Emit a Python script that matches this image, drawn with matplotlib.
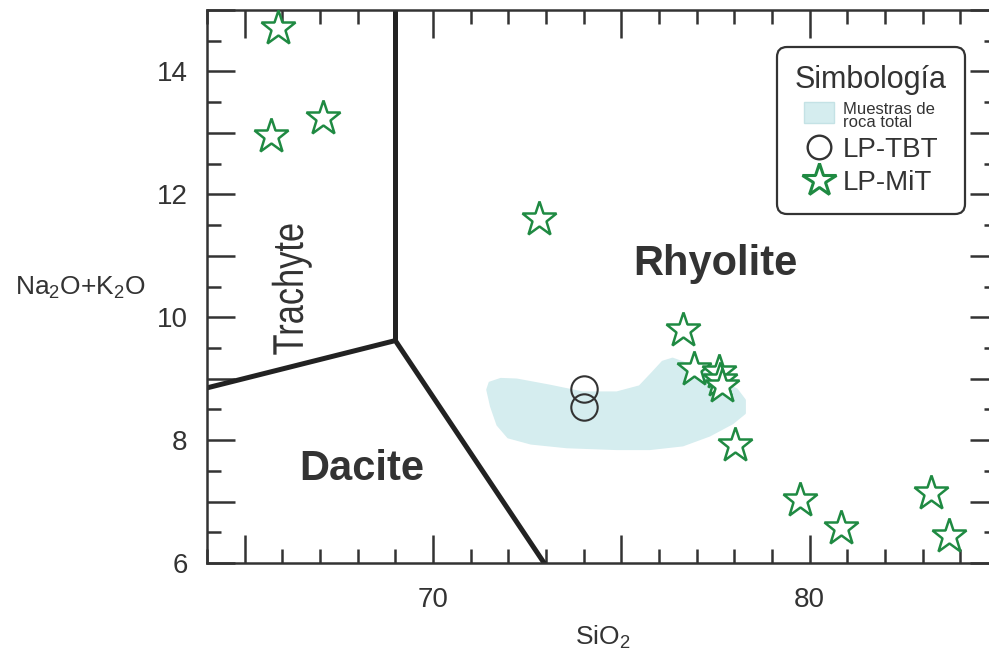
import matplotlib
matplotlib.use('Agg')
import matplotlib.pyplot as plt
from matplotlib.lines import Line2D
from matplotlib.patches import Patch, Polygon, PathPatch
from matplotlib.ticker import MultipleLocator
from matplotlib.textpath import TextPath
from matplotlib.font_manager import FontProperties
from matplotlib.transforms import Affine2D, IdentityTransform

plt.rcParams['font.family'] = ['Liberation Sans', 'DejaVu Sans']
plt.rcParams['mathtext.fontset'] = 'custom'
plt.rcParams['mathtext.rm'] = 'Liberation Sans'
plt.rcParams['mathtext.it'] = 'Liberation Sans'

# LP-MiT samples (SiO2, Na2O+K2O)
mit_sio2 = [65.88, 65.70, 67.08, 72.81, 76.64, 76.93, 77.58, 77.63, 77.66,
            78.01, 79.75, 80.82, 83.22, 83.71]
mit_alk = [14.71, 12.95, 13.25, 11.60, 9.80, 9.15, 9.11, 8.98, 8.88,
           7.92, 7.03, 6.57, 7.14, 6.44]

# LP-TBT samples
tbt_sio2 = [74.02, 74.02]
tbt_alk = [8.83, 8.54]

# whole-rock samples field outline
field_sio2 = [71.51, 71.80, 72.22, 73.10, 73.97, 74.88, 75.49, 75.83, 76.10,
              76.36, 76.81, 77.53, 78.06, 78.27, 78.27, 77.95, 77.34, 76.63,
              75.75, 74.88, 73.55, 72.60, 72.00, 71.72, 71.55, 71.45]
field_alk = [8.93, 8.99, 8.98, 8.88, 8.77, 8.77, 8.87, 9.09, 9.27,
             9.32, 9.22, 8.98, 8.82, 8.65, 8.44, 8.28, 8.08, 7.92,
             7.86, 7.86, 7.89, 7.95, 8.05, 8.25, 8.55, 8.82]

# TAS field boundaries
bound_a_sio2 = [69.0, 69.0]
bound_a_alk = [15.0, 9.62]
bound_b_sio2 = [64.0, 69.0, 72.95]
bound_b_alk = [8.85, 9.62, 6.0]

# axis ticks
x_ticks = [65, 70, 75, 80, 85]
x_labels = ['', '70', '', '80', '']
y_ticks = [6, 7, 8, 9, 10, 11, 12, 13, 14, 15]
y_labels = ['6', '', '8', '', '10', '', '12', '', '14', '']

txt = '#333333'
green = '#1f8a42'
field_col = '#d5edef'

fig = plt.figure(figsize=(9.89, 6.5), dpi=100)
ax = fig.add_axes([207 / 989, 1 - 563 / 650, 791 / 989, 553 / 650])

ax.add_patch(Polygon(list(zip(field_sio2, field_alk)), closed=True,
                     facecolor=field_col, edgecolor=field_col, lw=2,
                     joinstyle='round', zorder=1))

ax.plot(bound_a_sio2, bound_a_alk, color='#222222', lw=3.6, zorder=2,
        solid_capstyle='butt')
ax.plot(bound_b_sio2, bound_b_alk, color='#222222', lw=3.6, zorder=2,
        solid_joinstyle='miter')

ax.plot(tbt_sio2, tbt_alk, 'o', ms=19, mfc='none', mec='#333333', mew=1.5,
        zorder=3)
ax.plot(mit_sio2, mit_alk, '*', ms=26, mfc='white', mec=green, mew=1.8,
        zorder=4)

ax.set_xlim(64, 85)
ax.set_ylim(6, 15)

ax.text(77.5, 10.87, 'Rhyolite', fontsize=30, fontweight='bold', color=txt,
        ha='center', va='center')
ax.text(68.11, 7.53, 'Dacite', fontsize=30, fontweight='bold', color=txt,
        ha='center', va='center')

# condensed, rotated "Trachyte" label
tp = TextPath((0, 0), 'Trachyte', size=43,
              prop=FontProperties(family='Liberation Sans'))
ext = tp.get_extents()
cx, cy = ax.transData.transform((66.25, 10.45))
tr = (Affine2D().translate(-(ext.x0 + ext.x1) / 2, -(ext.y0 + ext.y1) / 2)
      .scale(0.8, 1.0).rotate_deg(90).translate(cx, cy))
ax.add_patch(PathPatch(tr.transform_path(tp), facecolor=txt, edgecolor='none',
                       transform=IdentityTransform(), zorder=2))

ax.set_xticks(x_ticks, x_labels)
ax.xaxis.set_minor_locator(MultipleLocator(1))
ax.set_yticks(y_ticks, y_labels)
ax.yaxis.set_minor_locator(MultipleLocator(0.5))

for s in ax.spines.values():
    s.set_linewidth(1.8)
    s.set_color(txt)
ax.tick_params(which='both', direction='in', top=True, right=True,
               color=txt, width=1.8, labelcolor=txt, labelsize=20)
ax.tick_params(which='major', length=20)
ax.tick_params(which='minor', length=10)
ax.tick_params(axis='x', which='major', pad=17)
ax.tick_params(axis='y', which='major', pad=14)
ax.set_xlabel('SiO$_2$', fontsize=19, color=txt, labelpad=8)
fig.text(80 / 989, 1 - 288 / 650, 'Na$_2$O+K$_2$O', fontsize=19, color=txt,
         ha='center', va='center')

handles = [
    Patch(facecolor=field_col, edgecolor='#c4e2e5'),
    Line2D([], [], ls='none', marker='o', ms=17, mfc='none', mec='#333333',
           mew=1.7),
    Line2D([], [], ls='none', marker='*', ms=25, mfc='white', mec=green,
           mew=2.2),
]
labels = ['Muestras de\nroca total', 'LP-TBT', 'LP-MiT']
leg = ax.legend(handles, labels, title='Simbología', loc='upper left',
                bbox_to_anchor=(777 / 989, 1 - 47 / 650),
                bbox_transform=fig.transFigure,
                fontsize=20, title_fontsize=22, handlelength=1.1,
                handleheight=0.75, handletextpad=0.3, labelspacing=0.25,
                borderpad=0.65, borderaxespad=0, fancybox=True, framealpha=1,
                edgecolor='#333333')
leg.get_frame().set_linewidth(1.6)
leg.get_frame().set_boxstyle('round', pad=0, rounding_size=0.35)
leg.get_texts()[0].set_fontsize(12)
leg.get_texts()[0].set_linespacing(0.85)
for t in leg.get_texts():
    t.set_color(txt)
leg.get_title().set_color(txt)

fig.savefig('out.png', dpi=100)
